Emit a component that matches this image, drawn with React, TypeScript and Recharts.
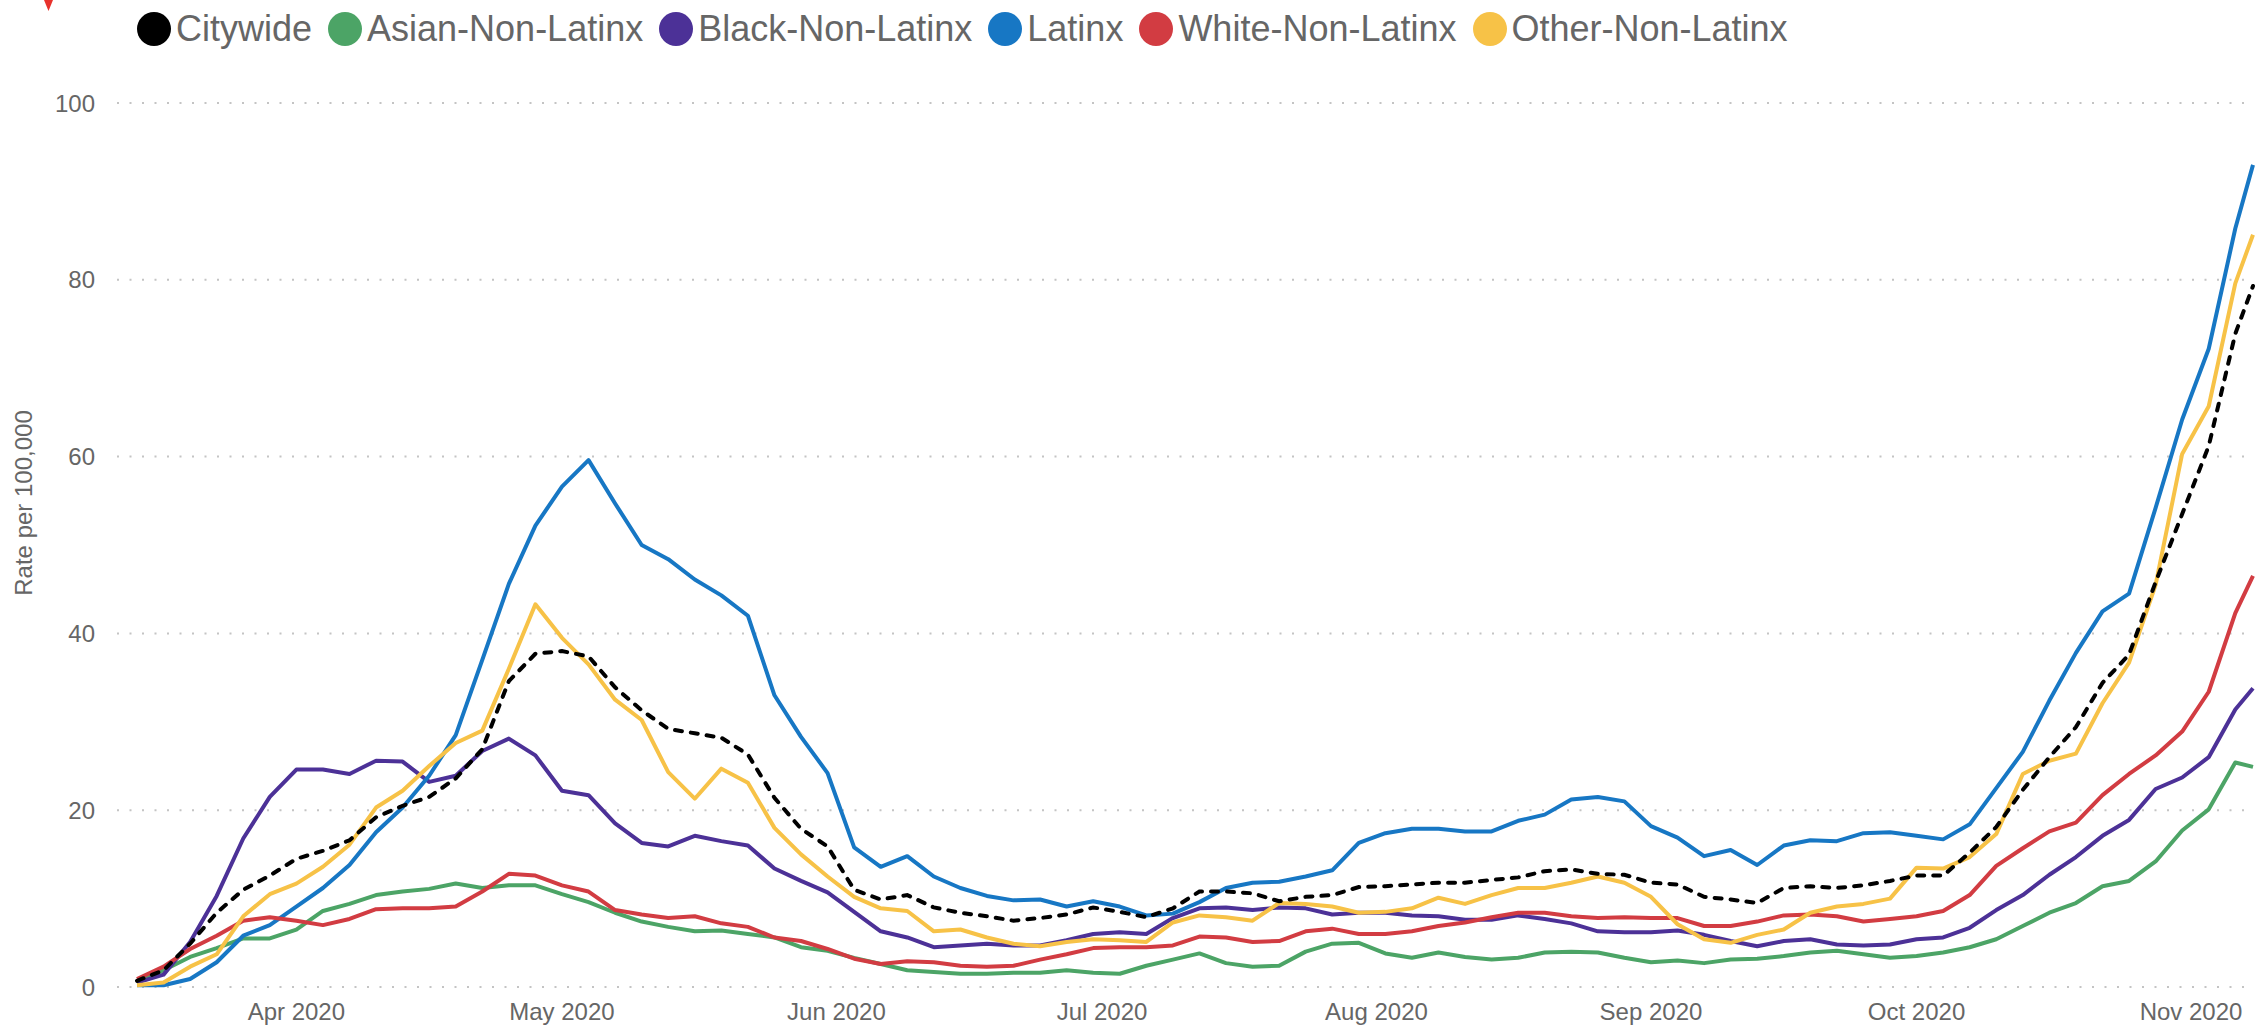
import { LineChart, Line, XAxis, YAxis, CartesianGrid } from "recharts";

const dates = [
  "2020-03-14", "2020-03-17", "2020-03-20", "2020-03-23", "2020-03-26", "2020-03-29",
  "2020-04-01", "2020-04-04", "2020-04-07", "2020-04-10", "2020-04-13", "2020-04-16",
  "2020-04-19", "2020-04-22", "2020-04-25", "2020-04-28", "2020-05-01", "2020-05-04",
  "2020-05-07", "2020-05-10", "2020-05-13", "2020-05-16", "2020-05-19", "2020-05-22",
  "2020-05-25", "2020-05-28", "2020-05-31", "2020-06-03", "2020-06-06", "2020-06-09",
  "2020-06-12", "2020-06-15", "2020-06-18", "2020-06-21", "2020-06-24", "2020-06-27",
  "2020-06-30", "2020-07-03", "2020-07-06", "2020-07-09", "2020-07-12", "2020-07-15",
  "2020-07-18", "2020-07-21", "2020-07-24", "2020-07-27", "2020-07-30", "2020-08-02",
  "2020-08-05", "2020-08-08", "2020-08-11", "2020-08-14", "2020-08-17", "2020-08-20",
  "2020-08-23", "2020-08-26", "2020-08-29", "2020-09-01", "2020-09-04", "2020-09-07",
  "2020-09-10", "2020-09-13", "2020-09-16", "2020-09-19", "2020-09-22", "2020-09-25",
  "2020-09-28", "2020-10-01", "2020-10-04", "2020-10-07", "2020-10-10", "2020-10-13",
  "2020-10-16", "2020-10-19", "2020-10-22", "2020-10-25", "2020-10-28", "2020-10-31",
  "2020-11-03", "2020-11-06", "2020-11-08",
];

const citywide = [
  0.7, 1.9, 4.9, 8.4, 11.0, 12.6, 14.5, 15.4, 16.6, 19.2, 20.5, 21.5, 23.6, 26.9, 34.6, 37.7, 38.0, 37.4, 33.9, 31.3, 29.2, 28.7,
  28.2, 26.3, 21.4, 17.9, 15.9, 11.0, 9.9, 10.4, 9.0, 8.4, 8.0, 7.5, 7.8, 8.2, 9.0, 8.5, 7.9, 8.9, 10.8, 10.8, 10.6,
  9.7, 10.2, 10.4, 11.3, 11.4, 11.6, 11.8, 11.8, 12.1, 12.4, 13.1, 13.3, 12.8, 12.7, 11.8, 11.6, 10.2, 9.9, 9.5, 11.2, 11.4, 11.2,
  11.5, 12.0, 12.6, 12.6, 15.2, 18.1, 22.3, 26.0, 29.4, 34.4, 37.6, 45.8, 53.5, 61.2, 73.9, 79.3,
];

const asian = [
  0.5, 1.9, 3.4, 4.4, 5.5, 5.5, 6.5, 8.6, 9.4, 10.4, 10.8, 11.1, 11.7, 11.2, 11.5, 11.5, 10.5, 9.6, 8.4, 7.4, 6.8, 6.3,
  6.4, 6.0, 5.6, 4.5, 4.1, 3.3, 2.6, 1.9, 1.7, 1.5, 1.5, 1.6, 1.6, 1.9, 1.6, 1.5, 2.4, 3.1, 3.8, 2.7, 2.3,
  2.4, 4.0, 4.9, 5.0, 3.8, 3.3, 3.9, 3.4, 3.1, 3.3, 3.9, 4.0, 3.9, 3.3, 2.8, 3.0, 2.7, 3.1, 3.2, 3.5, 3.9, 4.1,
  3.7, 3.3, 3.5, 3.9, 4.5, 5.4, 6.9, 8.4, 9.5, 11.4, 12.0, 14.2, 17.7, 20.1, 25.4, 24.9,
];

const black = [
  0.5, 1.4, 5.1, 10.3, 16.8, 21.5, 24.6, 24.6, 24.1, 25.6, 25.5, 23.2, 23.9, 26.7, 28.1, 26.2, 22.2, 21.7, 18.5, 16.3, 15.9, 17.1,
  16.5, 16.0, 13.4, 12.0, 10.7, 8.5, 6.3, 5.6, 4.5, 4.7, 4.9, 4.7, 4.7, 5.3, 6.0, 6.2, 6.0, 7.8, 8.9, 9.0, 8.7,
  9.0, 8.9, 8.2, 8.4, 8.4, 8.1, 8.0, 7.6, 7.6, 8.1, 7.7, 7.2, 6.3, 6.2, 6.2, 6.4, 5.9, 5.2, 4.6, 5.2, 5.4, 4.8,
  4.7, 4.8, 5.4, 5.6, 6.7, 8.7, 10.4, 12.7, 14.7, 17.1, 18.9, 22.4, 23.7, 26.0, 31.4, 33.8,
];

const latinx = [
  0.2, 0.2, 0.9, 2.8, 5.8, 7.0, 9.1, 11.2, 13.8, 17.5, 20.3, 23.9, 28.5, 37.0, 45.6, 52.2, 56.6, 59.6, 54.7, 50.0, 48.4, 46.1,
  44.3, 42.0, 33.0, 28.3, 24.2, 15.8, 13.6, 14.8, 12.5, 11.2, 10.3, 9.8, 9.9, 9.1, 9.7, 9.1, 8.1, 8.3, 9.6, 11.2, 11.8,
  11.9, 12.5, 13.2, 16.3, 17.4, 17.9, 17.9, 17.6, 17.6, 18.8, 19.5, 21.2, 21.5, 21.0, 18.2, 16.9, 14.8, 15.5, 13.8, 16.0, 16.6, 16.5,
  17.4, 17.5, 17.1, 16.7, 18.4, 22.5, 26.6, 32.4, 37.8, 42.5, 44.5, 54.2, 64.2, 72.2, 85.8, 93.0,
];

const white = [
  0.9, 2.3, 4.3, 5.8, 7.5, 7.9, 7.5, 7.0, 7.7, 8.8, 8.9, 8.9, 9.1, 10.8, 12.8, 12.6, 11.5, 10.8, 8.7, 8.2, 7.8, 8.0,
  7.2, 6.8, 5.6, 5.2, 4.3, 3.2, 2.6, 2.9, 2.8, 2.4, 2.3, 2.4, 3.1, 3.7, 4.4, 4.5, 4.5, 4.7, 5.7, 5.6, 5.1,
  5.2, 6.3, 6.6, 6.0, 6.0, 6.3, 6.9, 7.3, 7.9, 8.4, 8.4, 8.0, 7.8, 7.9, 7.8, 7.8, 6.9, 6.9, 7.4, 8.1, 8.2, 8.0,
  7.4, 7.7, 8.0, 8.6, 10.4, 13.7, 15.7, 17.6, 18.6, 21.7, 24.1, 26.2, 28.9, 33.4, 42.3, 46.5,
];

const other = [
  0.2, 0.5, 2.3, 3.7, 8.0, 10.5, 11.7, 13.6, 16.1, 20.3, 22.2, 25.0, 27.6, 29.0, 36.0, 43.3, 39.5, 36.5, 32.5, 30.2, 24.3, 21.3,
  24.7, 23.1, 18.0, 15.0, 12.5, 10.2, 8.9, 8.6, 6.3, 6.5, 5.6, 4.9, 4.6, 5.1, 5.4, 5.3, 5.1, 7.3, 8.1, 7.9, 7.5,
  9.5, 9.4, 9.1, 8.4, 8.5, 8.9, 10.1, 9.4, 10.4, 11.2, 11.2, 11.8, 12.5, 11.8, 10.2, 7.1, 5.4, 5.0, 5.9, 6.5, 8.4, 9.1,
  9.4, 10.0, 13.5, 13.4, 14.7, 17.3, 24.1, 25.6, 26.4, 32.1, 36.7, 45.5, 60.3, 65.7, 79.6, 85.1,
];

const monthTicks = ["2020-04-01", "2020-05-01", "2020-06-01", "2020-07-01", "2020-08-01", "2020-09-01", "2020-10-01", "2020-11-01"];
const monthLabels = ["Apr 2020", "May 2020", "Jun 2020", "Jul 2020", "Aug 2020", "Sep 2020", "Oct 2020", "Nov 2020"];
const yTicks = [0, 20, 40, 60, 80, 100];

const series = [
  { key: "asian", name: "Asian-Non-Latinx", color: "#4ca466" },
  { key: "black", name: "Black-Non-Latinx", color: "#4c3197" },
  { key: "latinx", name: "Latinx", color: "#1777c4" },
  { key: "white", name: "White-Non-Latinx", color: "#d23c42" },
  { key: "other", name: "Other-Non-Latinx", color: "#f7c247" },
];
const legendItems = [{ key: "citywide", name: "Citywide", color: "#000000" }, ...series];

const FONT = "'Liberation Sans', Arial, sans-serif";
const START = Date.parse("2020-03-14");
const dayOf = (iso: string) => Math.round((Date.parse(iso) - START) / 86400000);

const data = dates.map((d, i) => ({
  day: dayOf(d),
  citywide: citywide[i],
  asian: asian[i],
  black: black[i],
  latinx: latinx[i],
  white: white[i],
  other: other[i],
}));

const tickDays = monthTicks.map(dayOf);
const fmtMonth = (v: number) => monthLabels[tickDays.indexOf(v)] ?? "";

function AxisTitle() {
  return (
    <text x={23} y={503} transform="rotate(-90 23 503)" textAnchor="middle" dominantBaseline="central"
      fontSize={24} fill="#666" fontFamily={FONT}>
      Rate per 100,000
    </text>
  );
}

export default function App() {
  return (
    <div style={{ position: "absolute", left: 0, top: 0, width: 2256, height: 1027, background: "#fff", fontFamily: FONT }}>
      <svg width={12} height={12} style={{ position: "absolute", left: 43, top: 0 }}>
        <polygon points="1,0 10,0 5.5,11" fill="#e8322c" />
      </svg>
      <div style={{ position: "absolute", left: 137, top: 11, display: "flex", alignItems: "center", fontSize: 36, color: "#666", whiteSpace: "nowrap", zIndex: 2 }}>
        {legendItems.map((s) => (
          <div key={s.key} style={{ display: "flex", alignItems: "center", marginRight: 16 }}>
            <span style={{ display: "inline-block", width: 34, height: 34, borderRadius: "50%", background: s.color, marginRight: 5 }} />
            <span style={{ lineHeight: "36px" }}>{s.name}</span>
          </div>
        ))}
      </div>
      <LineChart width={2256} height={1027} data={data} margin={{ top: 103, right: 3, bottom: 0, left: 0 }}>
        <CartesianGrid vertical={false} stroke="#c4c4c4" strokeWidth={2} strokeDasharray="2 10.5" />
        <XAxis
          dataKey="day"
          type="number"
          domain={[0, 239]}
          ticks={tickDays}
          tickFormatter={fmtMonth}
          padding={{ left: 20, right: 0 }}
          axisLine={false}
          tickLine={false}
          tickMargin={10}
          height={40}
          tick={{ fontSize: 24, fill: "#666", fontFamily: FONT }}
        />
        <YAxis
          type="number"
          domain={[0, 100]}
          ticks={yTicks}
          width={117}
          axisLine={false}
          tickLine={false}
          tickMargin={16}
          tick={{ fontSize: 24, fill: "#666", fontFamily: FONT }}
          label={<AxisTitle />}
        />
        {series.map((s) => (
          <Line key={s.key} type="linear" dataKey={s.key} name={s.name} stroke={s.color} strokeWidth={4}
            strokeLinejoin="round" dot={false} activeDot={false} isAnimationActive={false} />
        ))}
        <Line type="linear" dataKey="citywide" name="Citywide" stroke="#000" strokeWidth={4} strokeDasharray="7 9"
          strokeLinecap="round" dot={false} activeDot={false} isAnimationActive={false} />
      </LineChart>
    </div>
  );
}
